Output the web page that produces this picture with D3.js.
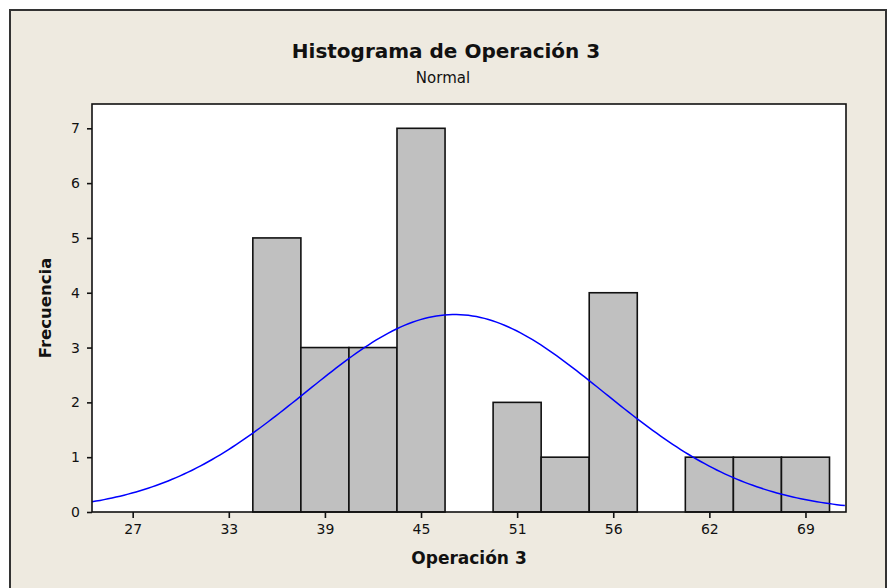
<!DOCTYPE html>
<html lang="es">
  <head>
    <meta charset="UTF-8" />
    <title>Histograma de Operación 3</title>
    <style>
      body { margin: 0; background: #fff; }
      text { font-family: "DejaVu Sans", sans-serif; fill: #111; }
    </style>
  </head>
  <body>
    <div id="chart"></div>
    <script src="https://cdn.jsdelivr.net/npm/d3@7"></script>
    <script>
      // bins (lower edge, upper edge) and counts
      var binStart = [34.5, 37.5, 40.5, 43.5, 46.5, 49.5, 52.5, 55.5, 58.5, 61.5, 64.5, 67.5];
      var binEnd   = [37.5, 40.5, 43.5, 46.5, 49.5, 52.5, 55.5, 58.5, 61.5, 64.5, 67.5, 70.5];
      var counts   = [5, 3, 3, 7, 0, 2, 1, 4, 0, 1, 1, 1];

      // x ticks sit on bin midpoints, labels as printed
      var xTicks  = [27, 33, 39, 45, 51, 57, 63, 69];
      var xLabels = ["27", "33", "39", "45", "51", "56", "62", "69"];
      var yTicks  = [0, 1, 2, 3, 4, 5, 6, 7];

      // fitted normal
      var mean = 47.1, sd = 9.3, binW = 3;

      var W = 892, H = 588;
      var plot = { left: 92, right: 846, top: 104, bottom: 512 };

      var svg = d3.select("#chart").append("svg")
        .attr("width", W)
        .attr("height", H);

      // background + frame
      svg.append("rect")
        .attr("x", 10).attr("y", 10)
        .attr("width", 876).attr("height", 590)
        .attr("fill", "#eeeae0")
        .attr("stroke", "#333").attr("stroke-width", 2);

      svg.append("rect")
        .attr("x", plot.left).attr("y", plot.top)
        .attr("width", plot.right - plot.left)
        .attr("height", plot.bottom - plot.top)
        .attr("fill", "#fff");

      var x = d3.scaleLinear()
        .domain([24.46, 71.53])
        .range([plot.left, plot.right]);

      var y = d3.scaleLinear()
        .domain([0, 7])
        .range([plot.bottom, 128.3]);

      // bars
      svg.selectAll(".bars")
        .data(counts)
        .enter()
        .append("rect")
        .attr("class", "bars")
        .attr("x", function(d, i) { return x(binStart[i]); })
        .attr("y", function(d) { return y(d); })
        .attr("width", function(d, i) { return x(binEnd[i]) - x(binStart[i]); })
        .attr("height", function(d) { return plot.bottom - y(d); })
        .attr("fill", "#c0c0c0")
        .attr("stroke", "#111")
        .attr("stroke-width", 1.6)
        .style("display", function(d) { return d > 0 ? null : "none"; });

      // normal curve
      var xs = d3.range(x.domain()[0], x.domain()[1] + 0.01, 0.25);
      var total = d3.sum(counts);
      var curve = d3.line()
        .x(function(v) { return x(v); })
        .y(function(v) {
          var z = (v - mean) / sd;
          return y(total * binW * Math.exp(-0.5 * z * z) / (sd * Math.sqrt(2 * Math.PI)));
        });
      svg.append("path")
        .datum(xs)
        .attr("d", curve)
        .attr("fill", "none")
        .attr("stroke", "#0000ff")
        .attr("stroke-width", 1.5);

      // plot border
      svg.append("rect")
        .attr("x", plot.left).attr("y", plot.top)
        .attr("width", plot.right - plot.left)
        .attr("height", plot.bottom - plot.top)
        .attr("fill", "none")
        .attr("stroke", "#111").attr("stroke-width", 1.6);

      // axes
      var xAxis = d3.axisBottom(x)
        .tickValues(xTicks)
        .tickSize(6)
        .tickPadding(6)
        .tickFormat(function(d, i) { return xLabels[i]; });
      var gx = svg.append("g")
        .attr("transform", "translate(0," + plot.bottom + ")")
        .call(xAxis);

      var yAxis = d3.axisLeft(y)
        .tickValues(yTicks)
        .tickSize(5)
        .tickPadding(7)
        .tickFormat(d3.format("d"));
      var gy = svg.append("g")
        .attr("transform", "translate(" + plot.left + ",0)")
        .call(yAxis);

      [gx, gy].forEach(function(g) {
        g.select(".domain").remove();
        g.selectAll(".tick line").attr("stroke", "#111").attr("stroke-width", 1.6);
        g.selectAll(".tick text")
          .attr("fill", "#222")
          .style("font-family", "DejaVu Sans, sans-serif")
          .style("font-size", "14px");
      });

      // titles
      svg.append("text")
        .attr("x", 446).attr("y", 58)
        .attr("text-anchor", "middle")
        .style("font-weight", "bold")
        .style("font-size", "20px")
        .text("Histograma de Operación 3");

      svg.append("text")
        .attr("x", 443).attr("y", 83)
        .attr("text-anchor", "middle")
        .style("font-size", "15px")
        .text("Normal");

      svg.append("text")
        .attr("x", (plot.left + plot.right) / 2).attr("y", 564)
        .attr("text-anchor", "middle")
        .style("font-weight", "bold")
        .style("font-size", "17px")
        .text("Operación 3");

      svg.append("text")
        .attr("transform", "translate(51," + ((plot.top + plot.bottom) / 2) + ")rotate(-90)")
        .attr("text-anchor", "middle")
        .style("font-weight", "bold")
        .style("font-size", "16.5px")
        .text("Frecuencia");
    </script>
  </body>
</html>
